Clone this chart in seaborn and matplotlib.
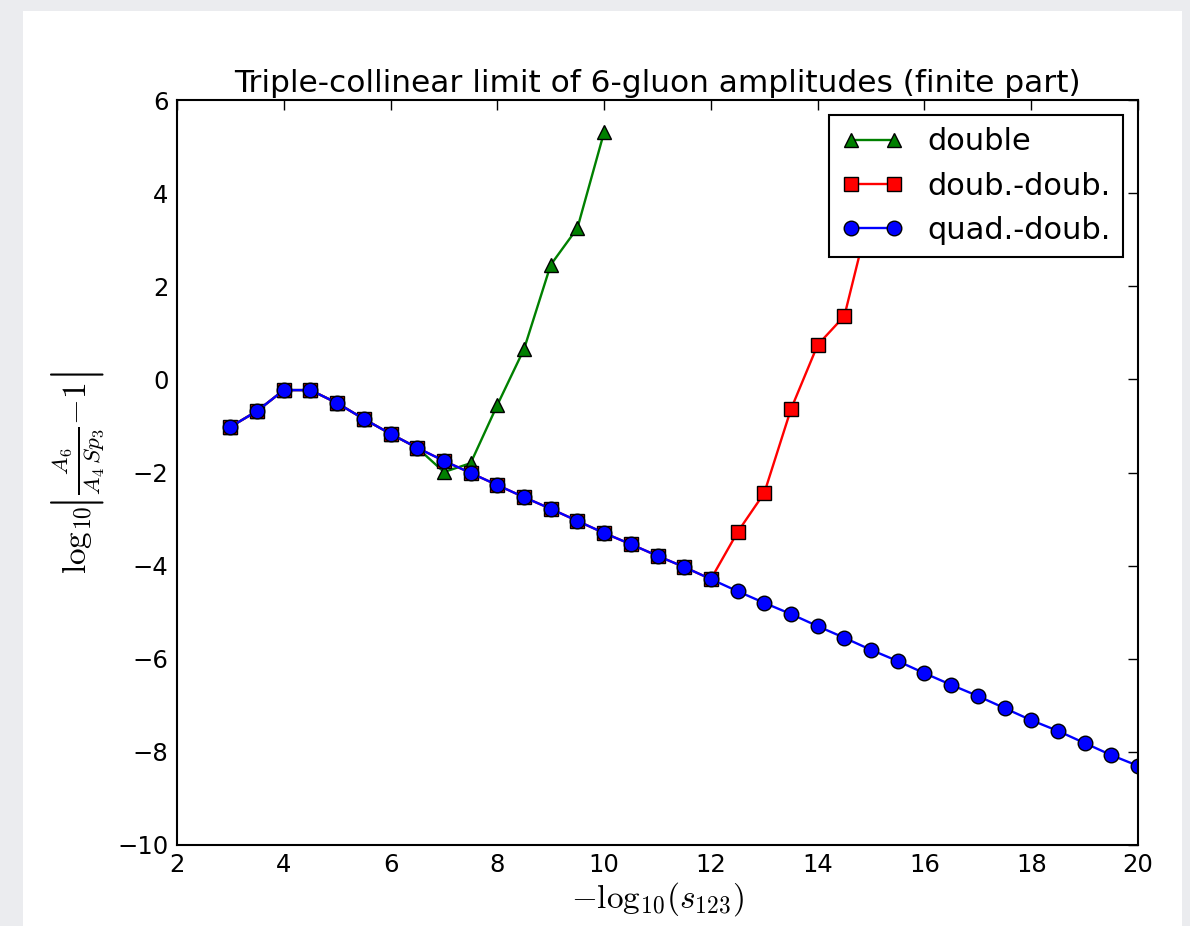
import matplotlib
matplotlib.use("Agg")
import matplotlib.pyplot as plt
import seaborn as sns
import numpy as np
from matplotlib.patches import Rectangle

# ---- data ----
x_quad = [3, 3.5, 4, 4.5, 5, 5.5, 6, 6.5, 7, 7.5, 8, 8.5, 9, 9.5, 10, 10.5, 11, 11.5,
          12, 12.5, 13, 13.5, 14, 14.5, 15, 15.5, 16, 16.5, 17, 17.5, 18, 18.5, 19, 19.5, 20]
y_quad = [-1.02, -0.68, -0.23, -0.23, -0.51, -0.85, -1.17, -1.47, -1.75, -2.01, -2.27, -2.53,
          -2.78, -3.04, -3.30, -3.54, -3.79, -4.03, -4.29, -4.55, -4.80, -5.04, -5.30, -5.55,
          -5.81, -6.05, -6.31, -6.56, -6.80, -7.06, -7.32, -7.55, -7.81, -8.07, -8.30]

x_dd = [3, 3.5, 4, 4.5, 5, 5.5, 6, 6.5, 7, 7.5, 8, 8.5, 9, 9.5, 10, 10.5, 11, 11.5,
        12, 12.5, 13, 13.5, 14, 14.5, 15]
y_dd = [-1.02, -0.68, -0.23, -0.23, -0.51, -0.85, -1.17, -1.47, -1.75, -2.01, -2.27, -2.53,
        -2.78, -3.04, -3.30, -3.54, -3.79, -4.03, -4.29, -3.28, -2.44, -0.64, 0.74, 1.36, 3.68]

x_double = [3, 3.5, 4, 4.5, 5, 5.5, 6, 6.5, 7, 7.5, 8, 8.5, 9, 9.5, 10]
y_double = [-1.02, -0.68, -0.23, -0.23, -0.51, -0.85, -1.17, -1.47, -1.99, -1.80, -0.55,
            0.65, 2.46, 3.25, 5.31]

labels = ["double", "doub.-doub.", "quad.-doub."]
xticks = [2, 4, 6, 8, 10, 12, 14, 16, 18, 20]
yticks = [-10, -8, -6, -4, -2, 0, 2, 4, 6]

# ---- style ----
sns.set_style("white")
plt.rcParams["font.family"] = ["DejaVu Sans"]
plt.rcParams["mathtext.fontset"] = "cm"
plt.rcParams["text.color"] = "black"
plt.rcParams["axes.labelcolor"] = "black"

W, H = 1190, 926
fig = plt.figure(figsize=(W / 100, H / 100), dpi=100)
fig.patch.set_facecolor("#ebecef")
fig.patches.append(Rectangle((23 / W, 0), (1182 - 23) / W, 1 - 11 / H,
                             transform=fig.transFigure, facecolor="white",
                             edgecolor="none", zorder=-10))

ax = fig.add_axes([177 / W, 1 - 845 / H, (1138 - 177) / W, (845 - 100) / H])
ax.set_facecolor("white")

common = dict(linewidth=1.7, markersize=10.5, markeredgecolor="black",
              markeredgewidth=1.0, ax=ax)
sns.lineplot(x=x_double, y=y_double, marker="^", color="green",
             label=labels[0], **common)
sns.lineplot(x=x_dd, y=y_dd, marker="s", color="red", label=labels[1], **common)
sns.lineplot(x=x_quad, y=y_quad, marker="o", color="blue", label=labels[2], **common)

ax.set_xlim(2, 20)
ax.set_ylim(-10, 6)
ax.set_xticks(xticks)
ax.set_yticks(yticks)
ax.set_xticklabels([str(t) for t in xticks])
ax.set_yticklabels([("\u2212" + str(-t)) if t < 0 else str(t) for t in yticks])
ax.tick_params(direction="in", length=7, width=1, top=True, right=True,
               labelsize=17.5, colors="black", pad=6)
for s in ax.spines.values():
    s.set_linewidth(1.5)
    s.set_color("black")

ax.set_title("Triple-collinear limit of 6-gluon amplitudes (finite part)",
             fontsize=22.5, pad=6, color="black")
ax.set_xlabel(r"$-\mathrm{log}_{10}(s_{123})$", fontsize=24, labelpad=2)
ax.set_ylabel(r"$\mathrm{log}_{10}\!\left|\frac{A_6}{A_4\,Sp_3}{-}1\right|$", fontsize=24,
              labelpad=8)

leg = ax.legend(loc="upper right", numpoints=2, fontsize=22, frameon=True,
                fancybox=False, edgecolor="black", framealpha=1,
                borderpad=0.4, labelspacing=0.5, handlelength=2,
                handletextpad=0.8, borderaxespad=0.5)
leg.get_frame().set_linewidth(1.5)
for t in leg.get_texts():
    t.set_color("black")

fig.savefig("out.png", dpi=100, facecolor=fig.get_facecolor())
